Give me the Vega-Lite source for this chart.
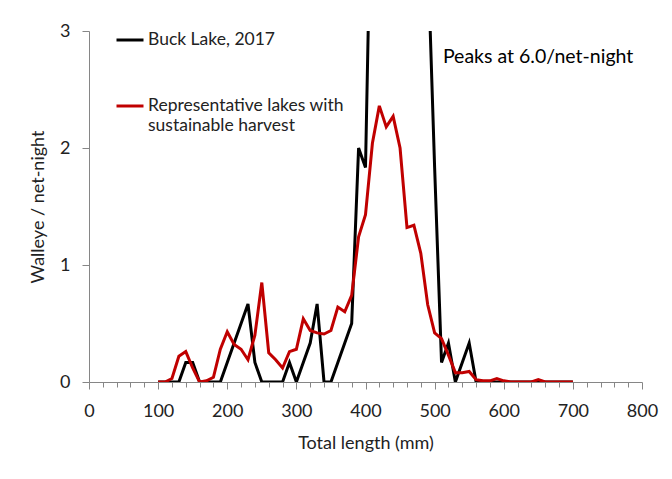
{
  "$schema": "https://vega.github.io/schema/vega-lite/v6.json",
  "autosize": "none",
  "width": 553,
  "height": 351,
  "padding": {"left": 89, "top": 31, "right": 30, "bottom": 97},
  "background": "white",
  "config": {
    "view": {"stroke": null},
    "font": "Lato",
    "axis": {"labelFont": "Lato", "titleFont": "Lato", "labelColor": "#222", "titleColor": "#222", "domainColor": "#868686", "tickColor": "#868686", "domainWidth": 1, "tickWidth": 1, "grid": false, "labelFontSize": 18, "titleFontSize": 18, "titleFontWeight": "normal"}
  },
  "datasets": {
    "lakes": [
      {"len": 100, "series": "Buck Lake, 2017", "v": 0},
      {"len": 110, "series": "Buck Lake, 2017", "v": 0},
      {"len": 120, "series": "Buck Lake, 2017", "v": 0},
      {"len": 130, "series": "Buck Lake, 2017", "v": 0},
      {"len": 140, "series": "Buck Lake, 2017", "v": 0.167},
      {"len": 150, "series": "Buck Lake, 2017", "v": 0.167},
      {"len": 160, "series": "Buck Lake, 2017", "v": 0},
      {"len": 170, "series": "Buck Lake, 2017", "v": 0},
      {"len": 180, "series": "Buck Lake, 2017", "v": 0},
      {"len": 190, "series": "Buck Lake, 2017", "v": 0},
      {"len": 200, "series": "Buck Lake, 2017", "v": 0.167},
      {"len": 210, "series": "Buck Lake, 2017", "v": 0.333},
      {"len": 220, "series": "Buck Lake, 2017", "v": 0.5},
      {"len": 230, "series": "Buck Lake, 2017", "v": 0.667},
      {"len": 240, "series": "Buck Lake, 2017", "v": 0.167},
      {"len": 250, "series": "Buck Lake, 2017", "v": 0},
      {"len": 260, "series": "Buck Lake, 2017", "v": 0},
      {"len": 270, "series": "Buck Lake, 2017", "v": 0},
      {"len": 280, "series": "Buck Lake, 2017", "v": 0},
      {"len": 290, "series": "Buck Lake, 2017", "v": 0.167},
      {"len": 300, "series": "Buck Lake, 2017", "v": 0},
      {"len": 310, "series": "Buck Lake, 2017", "v": 0.167},
      {"len": 320, "series": "Buck Lake, 2017", "v": 0.333},
      {"len": 330, "series": "Buck Lake, 2017", "v": 0.667},
      {"len": 340, "series": "Buck Lake, 2017", "v": 0},
      {"len": 350, "series": "Buck Lake, 2017", "v": 0},
      {"len": 360, "series": "Buck Lake, 2017", "v": 0.167},
      {"len": 370, "series": "Buck Lake, 2017", "v": 0.333},
      {"len": 380, "series": "Buck Lake, 2017", "v": 0.5},
      {"len": 390, "series": "Buck Lake, 2017", "v": 2.0},
      {"len": 400, "series": "Buck Lake, 2017", "v": 1.833},
      {"len": 410, "series": "Buck Lake, 2017", "v": 4.833},
      {"len": 420, "series": "Buck Lake, 2017", "v": 5.5},
      {"len": 430, "series": "Buck Lake, 2017", "v": 6.0},
      {"len": 440, "series": "Buck Lake, 2017", "v": 5.667},
      {"len": 450, "series": "Buck Lake, 2017", "v": 5.0},
      {"len": 460, "series": "Buck Lake, 2017", "v": 4.5},
      {"len": 470, "series": "Buck Lake, 2017", "v": 5.167},
      {"len": 480, "series": "Buck Lake, 2017", "v": 4.333},
      {"len": 490, "series": "Buck Lake, 2017", "v": 3.667},
      {"len": 500, "series": "Buck Lake, 2017", "v": 1.833},
      {"len": 510, "series": "Buck Lake, 2017", "v": 0.167},
      {"len": 520, "series": "Buck Lake, 2017", "v": 0.333},
      {"len": 530, "series": "Buck Lake, 2017", "v": 0},
      {"len": 540, "series": "Buck Lake, 2017", "v": 0.167},
      {"len": 550, "series": "Buck Lake, 2017", "v": 0.333},
      {"len": 560, "series": "Buck Lake, 2017", "v": 0},
      {"len": 570, "series": "Buck Lake, 2017", "v": 0},
      {"len": 580, "series": "Buck Lake, 2017", "v": 0},
      {"len": 590, "series": "Buck Lake, 2017", "v": 0},
      {"len": 600, "series": "Buck Lake, 2017", "v": 0},
      {"len": 650, "series": "Buck Lake, 2017", "v": 0},
      {"len": 700, "series": "Buck Lake, 2017", "v": 0},
      {"len": 100, "series": "Representative lakes with sustainable harvest", "v": 0},
      {"len": 110, "series": "Representative lakes with sustainable harvest", "v": 0},
      {"len": 120, "series": "Representative lakes with sustainable harvest", "v": 0.03},
      {"len": 130, "series": "Representative lakes with sustainable harvest", "v": 0.22},
      {"len": 140, "series": "Representative lakes with sustainable harvest", "v": 0.26},
      {"len": 150, "series": "Representative lakes with sustainable harvest", "v": 0.12},
      {"len": 160, "series": "Representative lakes with sustainable harvest", "v": 0},
      {"len": 170, "series": "Representative lakes with sustainable harvest", "v": 0.01},
      {"len": 180, "series": "Representative lakes with sustainable harvest", "v": 0.04},
      {"len": 190, "series": "Representative lakes with sustainable harvest", "v": 0.28},
      {"len": 200, "series": "Representative lakes with sustainable harvest", "v": 0.43},
      {"len": 210, "series": "Representative lakes with sustainable harvest", "v": 0.32},
      {"len": 220, "series": "Representative lakes with sustainable harvest", "v": 0.28},
      {"len": 230, "series": "Representative lakes with sustainable harvest", "v": 0.19},
      {"len": 240, "series": "Representative lakes with sustainable harvest", "v": 0.4},
      {"len": 250, "series": "Representative lakes with sustainable harvest", "v": 0.85},
      {"len": 260, "series": "Representative lakes with sustainable harvest", "v": 0.25},
      {"len": 270, "series": "Representative lakes with sustainable harvest", "v": 0.19},
      {"len": 280, "series": "Representative lakes with sustainable harvest", "v": 0.12},
      {"len": 290, "series": "Representative lakes with sustainable harvest", "v": 0.26},
      {"len": 300, "series": "Representative lakes with sustainable harvest", "v": 0.28},
      {"len": 310, "series": "Representative lakes with sustainable harvest", "v": 0.54},
      {"len": 320, "series": "Representative lakes with sustainable harvest", "v": 0.44},
      {"len": 330, "series": "Representative lakes with sustainable harvest", "v": 0.42},
      {"len": 340, "series": "Representative lakes with sustainable harvest", "v": 0.41},
      {"len": 350, "series": "Representative lakes with sustainable harvest", "v": 0.44},
      {"len": 360, "series": "Representative lakes with sustainable harvest", "v": 0.64},
      {"len": 370, "series": "Representative lakes with sustainable harvest", "v": 0.6},
      {"len": 380, "series": "Representative lakes with sustainable harvest", "v": 0.74},
      {"len": 390, "series": "Representative lakes with sustainable harvest", "v": 1.24},
      {"len": 400, "series": "Representative lakes with sustainable harvest", "v": 1.43},
      {"len": 410, "series": "Representative lakes with sustainable harvest", "v": 2.04},
      {"len": 420, "series": "Representative lakes with sustainable harvest", "v": 2.36},
      {"len": 430, "series": "Representative lakes with sustainable harvest", "v": 2.18},
      {"len": 440, "series": "Representative lakes with sustainable harvest", "v": 2.27},
      {"len": 450, "series": "Representative lakes with sustainable harvest", "v": 2.0},
      {"len": 460, "series": "Representative lakes with sustainable harvest", "v": 1.32},
      {"len": 470, "series": "Representative lakes with sustainable harvest", "v": 1.34},
      {"len": 480, "series": "Representative lakes with sustainable harvest", "v": 1.1},
      {"len": 490, "series": "Representative lakes with sustainable harvest", "v": 0.66},
      {"len": 500, "series": "Representative lakes with sustainable harvest", "v": 0.42},
      {"len": 510, "series": "Representative lakes with sustainable harvest", "v": 0.37},
      {"len": 520, "series": "Representative lakes with sustainable harvest", "v": 0.23},
      {"len": 530, "series": "Representative lakes with sustainable harvest", "v": 0.08},
      {"len": 540, "series": "Representative lakes with sustainable harvest", "v": 0.08},
      {"len": 550, "series": "Representative lakes with sustainable harvest", "v": 0.09},
      {"len": 560, "series": "Representative lakes with sustainable harvest", "v": 0.02},
      {"len": 570, "series": "Representative lakes with sustainable harvest", "v": 0.01},
      {"len": 580, "series": "Representative lakes with sustainable harvest", "v": 0.01},
      {"len": 590, "series": "Representative lakes with sustainable harvest", "v": 0.03},
      {"len": 600, "series": "Representative lakes with sustainable harvest", "v": 0.01},
      {"len": 610, "series": "Representative lakes with sustainable harvest", "v": 0},
      {"len": 620, "series": "Representative lakes with sustainable harvest", "v": 0},
      {"len": 630, "series": "Representative lakes with sustainable harvest", "v": 0},
      {"len": 640, "series": "Representative lakes with sustainable harvest", "v": 0},
      {"len": 650, "series": "Representative lakes with sustainable harvest", "v": 0.02},
      {"len": 660, "series": "Representative lakes with sustainable harvest", "v": 0},
      {"len": 670, "series": "Representative lakes with sustainable harvest", "v": 0},
      {"len": 680, "series": "Representative lakes with sustainable harvest", "v": 0},
      {"len": 690, "series": "Representative lakes with sustainable harvest", "v": 0},
      {"len": 700, "series": "Representative lakes with sustainable harvest", "v": 0}
    ],
    "note": [{"text": "Peaks at 6.0/net-night"}]
  },
  "layer": [
    {
      "data": {"name": "lakes"},
      "encoding": {
        "x": {"field": "len", "type": "quantitative", "scale": {"domain": [0, 800], "nice": false},
          "axis": {"title": "Total length (mm)", "values": [0,20,40,60,80,100,120,140,160,180,200,220,240,260,280,300,320,340,360,380,400,420,440,460,480,500,520,540,560,580,600,620,640,660,680,700,720,740,760,780,800],
            "labelExpr": "datum.value % 100 === 0 ? datum.label : ''", "labelOverlap": false, "labelFlush": false,
            "tickSize": {"condition": {"test": "datum.value % 100 === 0", "value": 7}, "value": 5},
            "labelPadding": 13, "titlePadding": 14}},
        "y": {"field": "v", "type": "quantitative", "scale": {"domain": [0, 3], "nice": false},
          "axis": {"title": "Walleye / net-night", "values": [0, 1, 2, 3], "format": "d", "tickSize": 7, "labelPadding": 12, "titlePadding": 12}},
        "color": {"field": "series", "type": "nominal",
          "scale": {"domain": ["Buck Lake, 2017", "Representative lakes with sustainable harvest"], "range": ["#000000", "#C00000"]},
          "legend": {"title": null, "orient": "none", "legendX": 26, "legendY": -6,
            "symbolType": "stroke", "symbolSize": 729, "symbolStrokeWidth": 3,
            "labelFont": "Lato", "labelFontSize": 17.5, "labelColor": "#222", "labelOffset": 3, "labelLimit": 400,
            "rowPadding": 42,
            "labelExpr": "datum.label === 'Representative lakes with sustainable harvest' ? ['Representative lakes with', 'sustainable harvest'] : datum.label"}}
      },
      "layer": [
        {
          "transform": [{"filter": "datum.series === 'Buck Lake, 2017'"}],
          "mark": {"type": "line", "strokeWidth": 3, "clip": true}
        },
        {
          "transform": [{"filter": "datum.series !== 'Buck Lake, 2017'"}],
          "mark": {"type": "line", "strokeWidth": 3, "clip": true}
        }
      ]
    },
    {
      "data": {"name": "note"},
      "mark": {"type": "text", "align": "left", "baseline": "middle", "fontSize": 19.5, "font": "Lato", "color": "#000"},
      "encoding": {
        "x": {"datum": 512, "type": "quantitative", "scale": {"domain": [0, 800], "nice": false},
          "axis": {"title": "Total length (mm)", "values": [0,20,40,60,80,100,120,140,160,180,200,220,240,260,280,300,320,340,360,380,400,420,440,460,480,500,520,540,560,580,600,620,640,660,680,700,720,740,760,780,800],
            "labelExpr": "datum.value % 100 === 0 ? datum.label : ''", "labelOverlap": false, "labelFlush": false,
            "tickSize": {"condition": {"test": "datum.value % 100 === 0", "value": 7}, "value": 5},
            "labelPadding": 13, "titlePadding": 14}},
        "y": {"datum": 2.78, "type": "quantitative", "scale": {"domain": [0, 3], "nice": false},
          "axis": {"title": "Walleye / net-night", "values": [0, 1, 2, 3], "format": "d", "tickSize": 7, "labelPadding": 12, "titlePadding": 12}},
        "text": {"field": "text"}
      }
    }
  ]
}
